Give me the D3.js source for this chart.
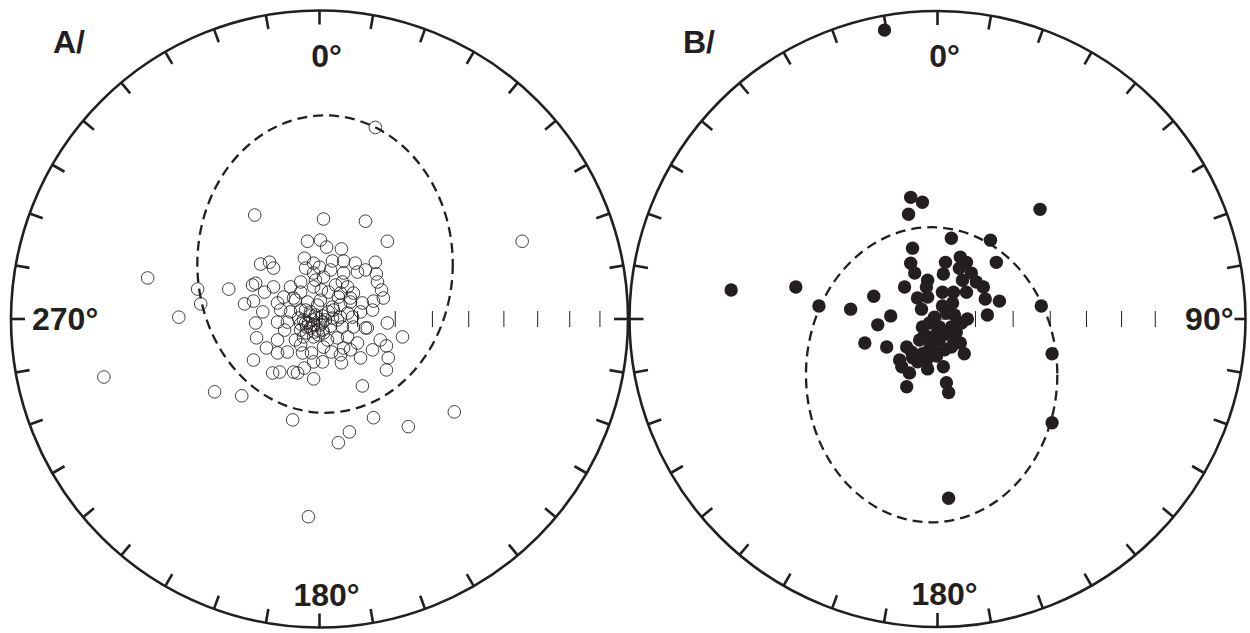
<!DOCTYPE html>
<html><head><meta charset="utf-8">
<script src="https://cdn.jsdelivr.net/npm/d3@7"></script>
<style>
html,body{margin:0;padding:0;background:#fff;}
svg{display:block;}
text{font-family:"Liberation Sans",Arial,sans-serif;font-weight:bold;fill:#231f20;}
</style></head>
<body>
<svg id="chart" width="1250" height="633"></svg>
<script>
// Panel letters and azimuth labels
const panelLabels = ["A/", "B/"];
const azimuthLabelsA = ["0°", "180°", "270°"];
const azimuthLabelsB = ["0°", "180°", "90°"];
// Plunge ticks along the E-W diameter (degrees)
const plungeTicks = [80, 70, 60, 50, 40, 30, 20, 10];
// Rim ticks (azimuth, degrees)
const rimTicks = d3.range(0, 360, 10);

// Equal-area projected poles, [east, north] in % of net radius
const pointsA = [
[18.1,62.1],[65.7,25.2],[-55.7,13.3],[-69.9,-18.8],[-45.6,0.6],[-39.5,9.7],[-38.5,4.9],[-29.4,9.7],
[-34.0,-23.6],[-25.2,-24.9],[-8.7,-32.7],[-3.6,-64.1],[6.1,-40.1],[9.7,-36.6],[17.5,-32.0],[28.8,-34.9],
[43.7,-30.1],[13.9,-21.7],[-21.0,33.7],[1.3,32.4],[14.9,31.7],[22.0,25.2],[-3.9,25.2],[0.3,25.6],
[2.3,23.3],[7.1,22.7],[-19.1,17.8],[-16.2,18.4],[-14.9,16.5],[-4.9,19.7],[-4.5,16.5],[0,16.8],
[4.2,18.8],[7.8,18.8],[11.6,18.1],[18.1,18.4],[14.9,15.9],[18.8,12.0],[20.1,9.4],[20.7,6.8],
[-1.9,14.9],[-1.3,12.6],[-1.9,10.4],[1.3,13.6],[7.8,14.9],[7.4,12.0],[9.1,10.4],[6.8,8.4],
[11.0,8.4],[-21.7,11.0],[-20.7,11.6],[-17.8,8.7],[-21.4,5.8],[-24.3,4.9],[-11.6,7.1],[-13.6,5.2],
[-8.4,6.8],[-3.9,5.5],[0.3,6.1],[4.2,3.9],[10.0,5.5],[13.9,5.2],[17.5,5.8],[-12.6,2.9],
[-9.4,2.3],[-6.1,2.9],[2.9,2.3],[6.8,4.5],[9.1,1.9],[13.3,2.3],[17.2,2.9],[-20.7,-1.3],
[-13.6,-1.0],[-10.4,-1.0],[-6.8,0.3],[-4.5,-1.3],[-2.3,-0.3],[1.0,-3.6],[5.8,-0.3],[7.4,-2.6],
[11.0,-2.6],[15.5,-2.9],[22.0,-1.3],[-20.4,-6.1],[-13.6,-6.8],[-5.2,-5.8],[-1.9,-5.8],[1.3,-4.5],
[5.8,-6.1],[9.1,-5.8],[12.3,-7.8],[19.7,-6.8],[26.9,-5.8],[-21.4,-13.3],[-13.6,-11.0],[-10.4,-10.7],
[-15.2,-17.5],[-12.9,-17.2],[-8.4,-17.2],[-7.1,-17.5],[-4.9,-15.9],[-1.9,-19.4],[-1.9,-13.9],[1.0,-13.9],
[-5.5,-11.0],[1.3,-9.1],[7.1,-14.2],[6.8,-11.6],[7.8,-9.4],[17.2,-10.0],[21.7,-8.7],[22.3,-12.6],
[21.7,-16.5],[14.9,-2.9],[-2.6,-11.0],[0.3,-1.9],[-2.9,-2.9],[-6.1,-3.6],[-1.3,1.3],[1.9,-0.3],
[-3.6,-1.3],[-0.3,-5.2],[3.6,-2.3],[-7.8,6.1],[-14.9,10.4],[-9.4,10.4],[-6.1,12.0],[-1.9,18.1],
[3.6,15.9],[5.2,11.0],[2.9,8.7],[-6.1,8.7],[-18.4,2.3],[-7.8,-6.8],[-17.2,-9.4],[10.0,-10.0],
[13.3,-12.6],[3.9,-10.7],[18.4,14.6],[12.3,15.2],[-6.1,-8.4],[-11.3,-3.6],[2.6,-6.8],[4.2,0.3],
[-4.5,2.9],[-0.6,4.5],[0.6,9.4],[10.0,6.8],[6.1,7.1],[10.7,0.6],[6.8,0.6],[4.5,2.9],
[-3.2,1.0],[-1.9,-1.9],[-0.6,-3.6],[-4.2,-4.5],[1.0,-1.0],[-5.2,-0.3],[-2.9,2.3],[-1.0,0.3],
[-4.2,-2.6],[-6.1,-1.6],[-1.6,-4.2],[1.0,1.0]
];
const pointsB = [
[-17.2,93.8],[-8.7,39.5],[-4.9,37.9],[-9.4,34.0],[33.3,35.6],[4.5,26.2],[17.2,25.6],[-8.1,23.0],
[7.4,20.1],[2.6,18.4],[9.4,18.4],[19.1,18.4],[-8.7,18.1],[-7.4,14.9],[1.9,14.6],[7.1,16.5],
[11.0,14.9],[8.1,12.6],[12.6,12.0],[-3.2,12.6],[-46.0,10.4],[14.9,10.4],[-10.7,10.4],[-3.6,10.4],
[1.6,8.7],[5.2,8.7],[9.4,8.7],[-20.7,7.4],[15.5,6.5],[20.1,5.8],[-6.5,6.8],[-3.2,7.1],
[-38.5,4.2],[-28.2,3.2],[33.7,4.2],[-5.2,3.2],[1.6,4.2],[4.9,5.2],[16.2,1.3],[-15.2,1.0],
[9.7,0],[-1.0,0.6],[2.9,1.9],[5.5,1.3],[-19.4,-1.9],[-4.9,-2.6],[-2.6,-1.3],[0.6,-2.6],
[4.5,-2.6],[7.8,-1.3],[-4.2,-5.2],[-0.3,-4.9],[3.2,-4.5],[6.1,-4.2],[-23.6,-7.8],[-16.5,-9.1],
[-10.0,-9.1],[-1.9,-8.4],[4.5,-9.1],[7.4,-7.8],[8.7,-11.3],[37.2,-11.3],[-12.3,-13.3],[-8.1,-12.6],
[-3.6,-13.3],[-0.3,-12.0],[-11.6,-15.5],[-9.1,-17.5],[-3.2,-16.2],[1.9,-15.5],[-10.0,-22.0],[2.9,-20.7],
[3.6,-23.9],[-67.0,9.4],[37.2,-33.7],[3.6,-58.2],[-5.8,-6.8],[0.6,-6.8],[2.3,-10.0],[-6.5,-13.9],
[-8.4,-10.7],[4.5,-5.5],[-1.6,-10.0],[-2.6,-6.1],[5.5,-2.6],[-4.9,-11.3],[-2.6,-9.7]
];
// Mean-direction confidence ellipses: [centerEast, centerNorth, semiEast, semiNorth] in % of radius
const ellipseA = [1.8, 17.8, 41.4, 48.2];
const ellipseB = [-1.9, -18.1, 40.8, 47.9];

const ink = "#231f20";
const svg = d3.select("#chart");

function drawNet(cfg) {
  const {cx, cy, R, points, filled, ellipse, labels, letter, letterX} = cfg;
  const g = svg.append("g");
  const x = d3.scaleLinear().domain([-100, 100]).range([cx - R, cx + R]);
  const y = d3.scaleLinear().domain([-100, 100]).range([cy + R, cy - R]);
  const rr = d3.scaleLinear().domain([0, 100]).range([0, R]);

  // primitive circle
  g.append("circle").attr("cx", x(0)).attr("cy", y(0)).attr("r", rr(100))
    .attr("fill", "none").attr("stroke", ink).attr("stroke-width", 2.6);

  // rim ticks
  const tickLen = 14;
  g.selectAll("line.rim").data(rimTicks).join("line").attr("class", "rim")
    .attr("x1", d => x(0) + rr(100) * Math.sin(d * Math.PI / 180))
    .attr("y1", d => y(0) - rr(100) * Math.cos(d * Math.PI / 180))
    .attr("x2", d => x(0) + (rr(100) - tickLen) * Math.sin(d * Math.PI / 180))
    .attr("y2", d => y(0) - (rr(100) - tickLen) * Math.cos(d * Math.PI / 180))
    .attr("stroke", ink).attr("stroke-width", 2.6);

  // plunge ticks on E half of diameter (equal-area)
  g.selectAll("line.pl").data(plungeTicks).join("line").attr("class", "pl")
    .attr("x1", d => x(100 * Math.SQRT2 * Math.sin((90 - d) / 2 * Math.PI / 180)))
    .attr("x2", d => x(100 * Math.SQRT2 * Math.sin((90 - d) / 2 * Math.PI / 180)))
    .attr("y1", y(0) - 8).attr("y2", y(0) + 8)
    .attr("stroke", ink).attr("stroke-width", 1);
  // centre cross
  g.append("line").attr("x1", x(0) - 10).attr("x2", x(0) + 10).attr("y1", y(0)).attr("y2", y(0))
    .attr("stroke", ink).attr("stroke-width", 1);
  g.append("line").attr("x1", x(0)).attr("x2", x(0)).attr("y1", y(0) - 8.5).attr("y2", y(0) + 8.5)
    .attr("stroke", ink).attr("stroke-width", 1);

  // confidence ellipse
  g.append("ellipse")
    .attr("cx", x(ellipse[0])).attr("cy", y(ellipse[1]))
    .attr("rx", x(ellipse[2]) - x(0)).attr("ry", y(0) - y(ellipse[3]))
    .attr("fill", "none").attr("stroke", ink).attr("stroke-width", 2.3)
    .attr("stroke-dasharray", "10,6");

  // points
  g.selectAll("circle.pt").data(points).join("circle").attr("class", "pt")
    .attr("cx", d => x(d[0])).attr("cy", d => y(d[1]))
    .attr("r", filled ? 6.7 : 6.3)
    .attr("fill", filled ? ink : "none")
    .attr("stroke", filled ? "none" : ink)
    .attr("stroke-width", filled ? 0 : 0.85);

  // labels
  const fs = 32;
  const addLabel = (txt, tx, ty, anchor) => {
    const t = g.append("text").attr("x", tx).attr("y", ty).attr("text-anchor", anchor)
      .attr("font-size", fs).text(txt);
    const bb = t.node().getBBox();
    g.insert("rect", function(){ return t.node(); })
      .attr("x", bb.x - 1).attr("y", bb.y + 4).attr("width", bb.width + 2).attr("height", bb.height - 8)
      .attr("fill", "#fff");
  };
  addLabel(labels[0], x(0) + 7, y(0) - rr(100) + 56, "middle");
  addLabel(labels[1], x(0) + 7, y(0) + rr(100) - 22, "middle");
  if (labels[2] === "270°") addLabel(labels[2], x(0) - rr(100) + 21, y(0) + 11, "start");
  else addLabel(labels[2], x(0) + rr(100) - 12, y(0) + 11, "end");
  g.append("text").attr("x", letterX).attr("y", 53).attr("font-size", fs).text(letter);
}

drawNet({cx: 319.5, cy: 319, R: 308.5, points: pointsA, filled: false, ellipse: ellipseA,
  labels: azimuthLabelsA, letter: panelLabels[0], letterX: 53});
drawNet({cx: 937.5, cy: 319, R: 308, points: pointsB, filled: true, ellipse: ellipseB,
  labels: azimuthLabelsB, letter: panelLabels[1], letterX: 683});
</script>
</body></html>
